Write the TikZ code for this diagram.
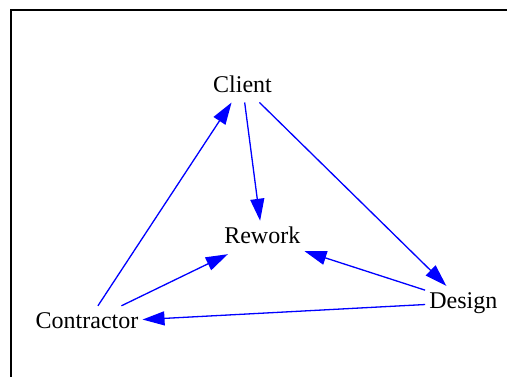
\documentclass[tikz,border=0pt]{standalone}
\usepackage{fontspec}
\setmainfont{Liberation Serif}
\usetikzlibrary{arrows.meta}
\begin{document}
\begin{tikzpicture}[x=1pt,y=-1pt,
  lbl/.style={rectangle, inner xsep=4pt, inner ysep=5pt, text height=18pt, text depth=5pt,
    font=\fontsize{24}{28}\selectfont, text=black},
  edge/.style={draw={rgb,255:red,0;green,0;blue,255}, line width=1.3pt,
    -{Triangle[length=22pt,width=14pt]}, fill={rgb,255:red,0;green,0;blue,255}}]
\useasboundingbox (0,0) rectangle (507,377);
\fill[white] (0,0) rectangle (507,377);
\draw[line width=2pt] (11,377) -- (11,10) -- (507,10);
\node[lbl] (client) at (242.5,85.8) {Client};
\node[lbl] (rework) at (262.3,237.5) {Rework};
\node[lbl] (design) at (463.3,302.5) {Design};
\node[lbl] (contractor) at (87,322.5) {Contractor};
\draw[edge] (contractor) -- (client);
\draw[edge] (client) -- (rework);
\draw[edge] (client) -- (design);
\draw[edge] (contractor) -- (rework);
\draw[edge] (design) -- (rework);
\draw[edge] (design) -- (contractor);
\end{tikzpicture}
\end{document}
